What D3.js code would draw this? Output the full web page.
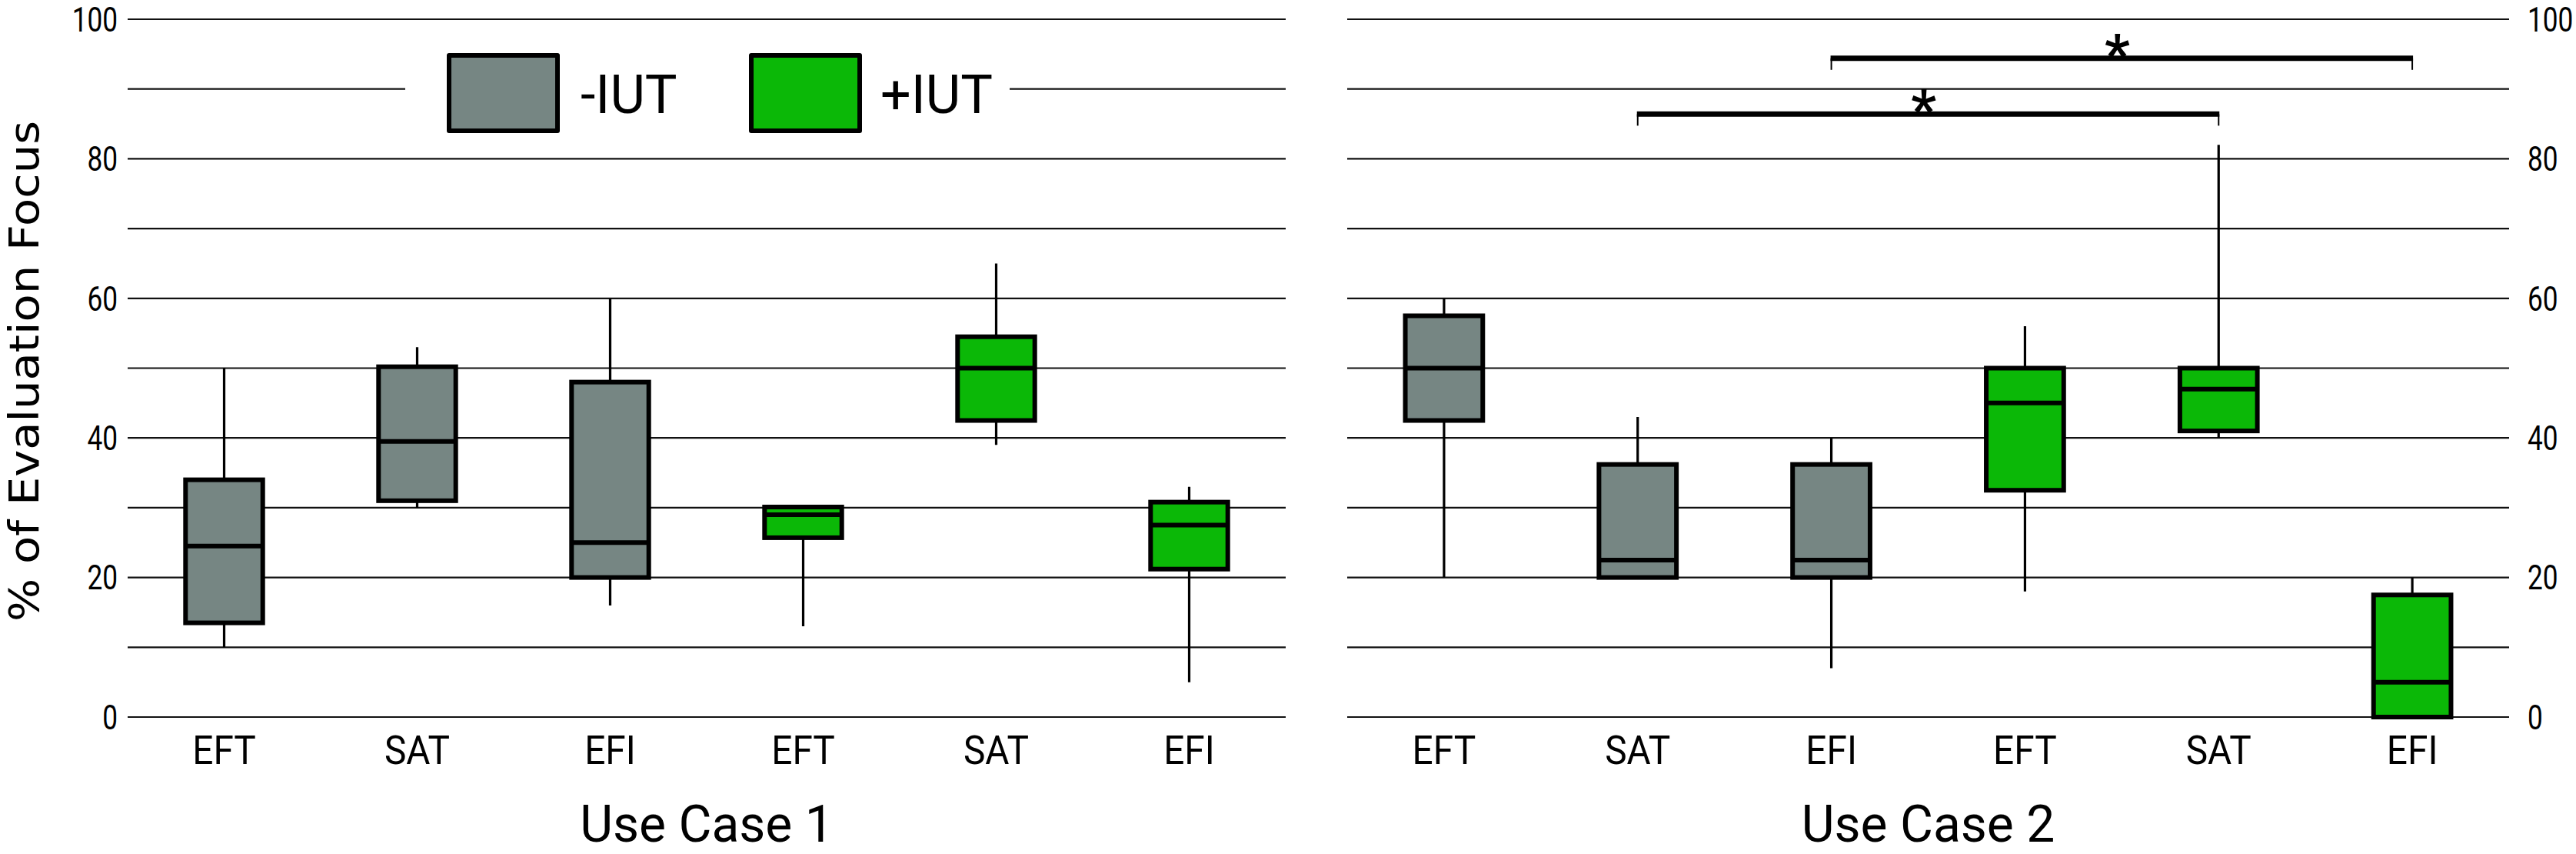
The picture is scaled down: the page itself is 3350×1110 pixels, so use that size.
<!DOCTYPE html>
<html>
<head>
<meta charset="utf-8">
<script src="https://cdn.jsdelivr.net/npm/d3@7"></script>
<style>
  html, body { margin: 0; padding: 0; background: #ffffff; }
  svg { display: block; }
</style>
</head>
<body>
<svg id="chart" width="3350" height="1110"></svg>
<script>
// ---------------- DATA ----------------
const categories = ["EFT", "SAT", "EFI", "EFT", "SAT", "EFI"];
const groups = ["-IUT", "-IUT", "-IUT", "+IUT", "+IUT", "+IUT"];
const legendLabels = ["-IUT", "+IUT"];
const panelTitles = ["Use Case 1", "Use Case 2"];
const yTicks = [0, 20, 40, 60, 80, 100];
const gridValues = [0, 10, 20, 30, 40, 50, 60, 70, 80, 90, 100];
const yTitle = "% of Evaluation Focus";

// Use Case 1 box statistics
const uc1Min    = [10,   30,   16,   13,   39,   5];
const uc1Q1     = [13.5, 31,   20,   25.7, 42.5, 21.2];
const uc1Median = [24.5, 39.5, 25,   29,   50,   27.5];
const uc1Q3     = [34,   50.2, 48,   30.1, 54.5, 30.8];
const uc1Max    = [50,   53,   60,   30.1, 65,   33];

// Use Case 2 box statistics
const uc2Min    = [20,   20,   7,    18,   40,   0];
const uc2Q1     = [42.5, 20,   20,   32.5, 41,   0];
const uc2Median = [50,   22.5, 22.5, 45,   47,   5];
const uc2Q3     = [57.5, 36.2, 36.2, 50,   50,   17.5];
const uc2Max    = [60,   43,   40,   56,   82,   20];

// Significance brackets (Use Case 2): from box index, to box index, bar level (%)
const sigFrom  = [1, 2];
const sigTo    = [4, 5];
const sigLevel = [86.4, 94.4];
const sigLabel = ["*", "*"];

// ---------------- DRAWING ----------------
const colors = { "-IUT": "#768683", "+IUT": "#0bb807" };
const svg = d3.select("#chart");

const y = d3.scaleLinear().domain([0, 100]).range([932, 25]);
const x1 = d3.scaleBand().domain(d3.range(categories.length)).range([166, 1672]);
const x2 = d3.scaleBand().domain(d3.range(categories.length)).range([1752, 3263]);

const baseFont = "Roboto, sans-serif";

function buildStats(mn, q1, md, q3, mx) {
  return categories.map((c, i) => ({ i, cat: c, group: groups[i], min: mn[i], q1: q1[i], med: md[i], q3: q3[i], max: mx[i] }));
}

function drawPanel(x, stats, title) {
  const g = svg.append("g");
  const [r0, r1] = x.range();
  // gridlines
  g.selectAll("line.grid").data(gridValues).join("line")
    .attr("class", "grid")
    .attr("x1", r0).attr("x2", r1)
    .attr("y1", d => y(d)).attr("y2", d => y(d))
    .attr("stroke", "#111").attr("stroke-width", 2.2);

  const bw = x.bandwidth() * 0.4;
  const cx = d => x(d.i) + x.bandwidth() / 2;

  // whiskers
  g.selectAll("line.whisk").data(stats).join("line")
    .attr("class", "whisk")
    .attr("x1", cx).attr("x2", cx)
    .attr("y1", d => y(d.max)).attr("y2", d => y(d.min))
    .attr("stroke", "#000").attr("stroke-width", 3.2);

  // boxes
  g.selectAll("rect.box").data(stats).join("rect")
    .attr("class", "box")
    .attr("x", d => cx(d) - bw / 2)
    .attr("width", bw)
    .attr("y", d => y(d.q3))
    .attr("height", d => y(d.q1) - y(d.q3))
    .attr("fill", d => colors[d.group])
    .attr("stroke", "#000").attr("stroke-width", 6);

  // medians
  g.selectAll("line.med").data(stats).join("line")
    .attr("class", "med")
    .attr("x1", d => cx(d) - bw / 2).attr("x2", d => cx(d) + bw / 2)
    .attr("y1", d => y(d.med)).attr("y2", d => y(d.med))
    .attr("stroke", "#000").attr("stroke-width", 6);

  // category labels (slightly condensed)
  g.selectAll("text.cat").data(stats).join("text")
    .attr("class", "cat")
    .attr("transform", d => `translate(${cx(d)}, ${y(0) + 61}) scale(0.92, 1)`)
    .attr("text-anchor", "middle")
    .attr("font-family", baseFont)
    .attr("font-size", 52)
    .attr("fill", "#000")
    .text(d => d.cat);

  // panel title
  g.append("text")
    .attr("x", (r0 + r1) / 2).attr("y", 1094)
    .attr("text-anchor", "middle")
    .attr("font-family", baseFont)
    .attr("font-size", 66)
    .attr("fill", "#000")
    .text(title);
  return g;
}

const stats1 = buildStats(uc1Min, uc1Q1, uc1Median, uc1Q3, uc1Max);
const stats2 = buildStats(uc2Min, uc2Q1, uc2Median, uc2Q3, uc2Max);

drawPanel(x1, stats1, panelTitles[0]);
drawPanel(x2, stats2, panelTitles[1]);

// y tick labels, left (right-aligned) and right (left-aligned), condensed
svg.append("g").selectAll("text").data(yTicks).join("text")
  .attr("transform", d => `translate(153, ${y(d)}) scale(0.8, 1)`)
  .attr("dy", "0.36em")
  .attr("text-anchor", "end")
  .attr("font-family", baseFont).attr("font-size", 44).attr("fill", "#000")
  .text(d => d);
svg.append("g").selectAll("text").data(yTicks).join("text")
  .attr("transform", d => `translate(3287, ${y(d)}) scale(0.8, 1)`)
  .attr("dy", "0.36em")
  .attr("text-anchor", "start")
  .attr("font-family", baseFont).attr("font-size", 44).attr("fill", "#000")
  .text(d => d);

// y axis title
const titleTop = 157, titleBottom = 808;
svg.append("text")
  .attr("transform", `translate(50, ${(titleTop + titleBottom) / 2}) rotate(-90)`)
  .attr("text-anchor", "middle")
  .attr("font-family", "'DejaVu Sans', sans-serif")
  .attr("font-size", 54)
  .attr("textLength", titleBottom - titleTop)
  .attr("lengthAdjust", "spacingAndGlyphs")
  .attr("fill", "#000")
  .text(yTitle);

// legend (white backing interrupts the 90 gridline)
const leg = svg.append("g");
leg.append("rect").attr("x", 527).attr("y", 60).attr("width", 786).attr("height", 122).attr("fill", "#fff");
const legX = [584, 977];
const legTextX = [755, 1145];
legendLabels.forEach((lab, i) => {
  leg.append("rect")
    .attr("x", legX[i]).attr("y", 72).attr("width", 141).attr("height", 98)
    .attr("fill", colors[lab]).attr("stroke", "#000").attr("stroke-width", 6)
    .attr("stroke-linejoin", "round");
  leg.append("text")
    .attr("x", legTextX[i]).attr("y", 147)
    .attr("font-family", baseFont).attr("font-size", 70).attr("fill", "#000")
    .text(lab);
});

// significance brackets
const sig = svg.append("g");
sigFrom.forEach((f, k) => {
  const xa = x2(f) + x2.bandwidth() / 2;
  const xb = x2(sigTo[k]) + x2.bandwidth() / 2;
  const yy = y(sigLevel[k]);
  sig.append("line").attr("x1", xa).attr("x2", xa).attr("y1", yy).attr("y2", yy + 15)
    .attr("stroke", "#000").attr("stroke-width", 2);
  sig.append("line").attr("x1", xb).attr("x2", xb).attr("y1", yy).attr("y2", yy + 15)
    .attr("stroke", "#000").attr("stroke-width", 2);
  sig.append("line").attr("x1", xa - 1).attr("x2", xb + 1).attr("y1", yy).attr("y2", yy)
    .attr("stroke", "#000").attr("stroke-width", 7);
  sig.append("text")
    .attr("x", (xa + xb) / 2 - 6).attr("y", yy + 20)
    .attr("text-anchor", "middle")
    .attr("font-family", baseFont).attr("font-weight", "bold")
    .attr("font-size", 72).attr("fill", "#000")
    .text(sigLabel[k]);
});
</script>
</body>
</html>
